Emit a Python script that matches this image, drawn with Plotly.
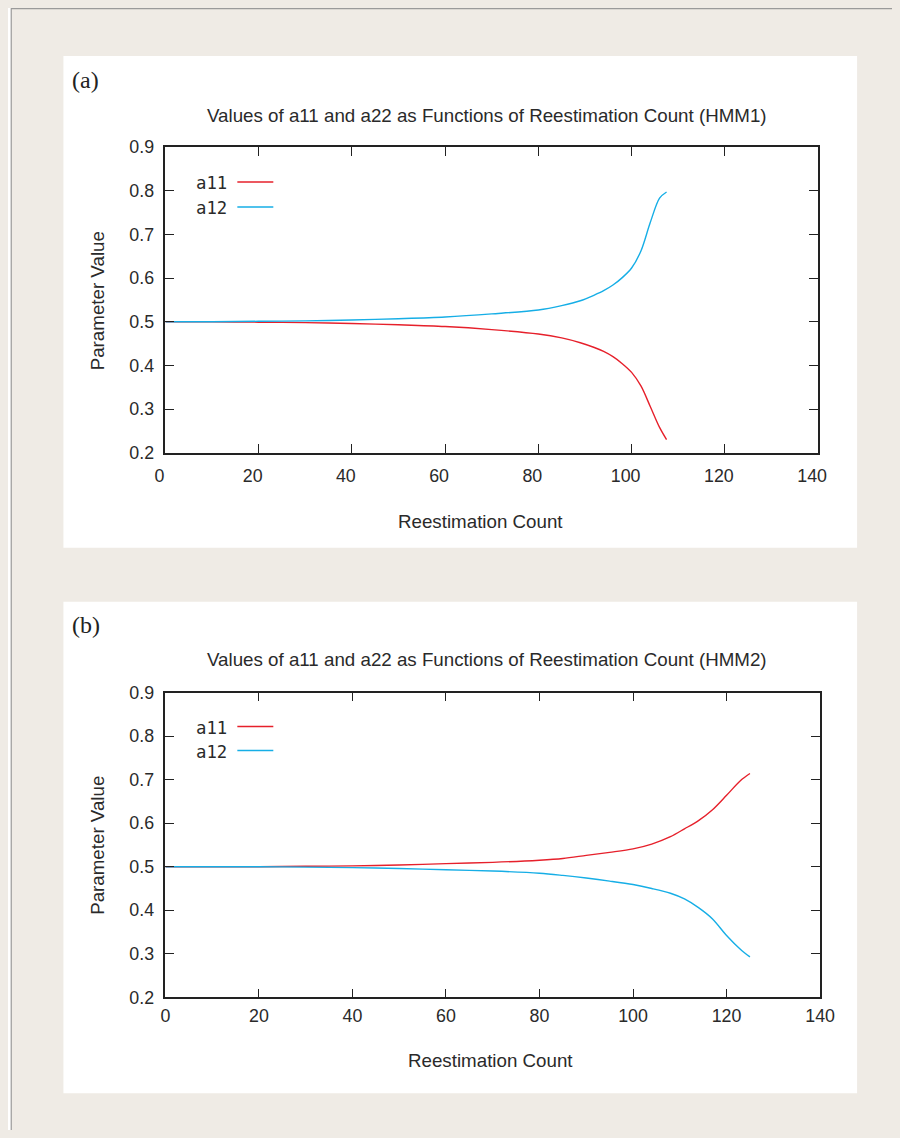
import plotly.graph_objects as go

# ---------------- data ----------------
x_hmm1 = [0, 10, 20, 30, 40, 50, 60, 70, 80, 85, 89, 92, 94, 96, 98, 100, 102, 104, 106, 107.5]
a11_hmm1 = [0.500, 0.500, 0.499, 0.498, 0.496, 0.493, 0.489, 0.482, 0.472, 0.463, 0.452, 0.441,
            0.432, 0.420, 0.404, 0.384, 0.353, 0.306, 0.258, 0.230]
a12_hmm1 = [0.500, 0.500, 0.501, 0.502, 0.504, 0.507, 0.511, 0.518, 0.527, 0.537, 0.548, 0.561,
            0.571, 0.584, 0.601, 0.623, 0.662, 0.727, 0.783, 0.797]

x_hmm2 = [0, 10, 20, 30, 40, 50, 60, 70, 80, 85, 90, 95, 100, 104, 108, 111, 114, 117, 120, 123, 125]
a11_hmm2 = [0.500, 0.500, 0.500, 0.501, 0.502, 0.504, 0.507, 0.510, 0.515, 0.519, 0.526, 0.533,
            0.541, 0.552, 0.569, 0.587, 0.606, 0.631, 0.664, 0.698, 0.714]
a12_hmm2 = [0.500, 0.500, 0.500, 0.499, 0.498, 0.496, 0.493, 0.490, 0.485, 0.480, 0.474, 0.467,
            0.459, 0.450, 0.439, 0.426, 0.406, 0.380, 0.342, 0.310, 0.293]

series_names = ["a11", "a12"]
titles = ["Values of a11 and a22 as Functions of Reestimation Count (HMM1)",
          "Values of a11 and a22 as Functions of Reestimation Count (HMM2)"]
panel_labels = ["(a)", "(b)"]
x_title = "Reestimation Count"
y_title = "Parameter Value"

# ---------------- style ----------------
PAGE_W, PAGE_H = 900, 1138
OFF = 8  # default body margin of the html page
W, H = PAGE_W - 2 * OFF, PAGE_H - 2 * OFF
# calibration of the photographed page: shot = S * page + O
SX, OX = 0.971, 10.8
SY, OY = 0.983, 9.0
BEIGE = "#efebe5"
RED = "#e6202b"
BLUE = "#16aee6"
AXC = "#222222"
TXT = "#2a2a2a"
SANS = "Liberation Sans, Arial, Helvetica, sans-serif"
MONO = "DejaVu Sans Mono, Liberation Mono, monospace"
SERIF = "Liberation Serif, Times New Roman, serif"


def px(x):
    """target pixel x (in the picture) -> paper fraction"""
    page = (x - OX) / SX
    return (page - OFF) / W


def py(y):
    page = (y - OY) / SY
    return 1 - (page - OFF) / H


def fs(size):
    return size / SX


fig = go.Figure()

panels = [
    dict(xa="x", ya="y", xs=[x_hmm1, x_hmm1], ys=[a11_hmm1, a12_hmm1],
         plot=(165, 818, 146, 452), box=(63, 857, 55, 547),
         title_y=114, label_y=79, xt=(480, 521), yt=(97, 300), leg_y=(182, 207), shift=-6, stand=6),
    dict(xa="x2", ya="y2", xs=[x_hmm2, x_hmm2], ys=[a11_hmm2, a12_hmm2],
         plot=(165, 820, 692, 997), box=(63, 857, 601, 1093),
         title_y=659, label_y=624, xt=(490, 1060), yt=(97, 845), leg_y=(727, 751), shift=0, stand=2),
]

shapes = []
annotations = []

# white outer strips (top and left), then page background with grey border on top and left
shapes.append(dict(type="rect", xref="paper", yref="paper", x0=px(-20), x1=px(930), y0=py(7.2), y1=py(-20),
                   fillcolor="white", line=dict(width=0), layer="below"))
shapes.append(dict(type="rect", xref="paper", yref="paper", x0=px(-20), x1=px(10.6), y0=py(1180), y1=py(-20),
                   fillcolor="white", line=dict(width=0), layer="below"))
shapes.append(dict(type="rect", xref="paper", yref="paper", x0=px(10.5), x1=px(930), y0=py(1180), y1=py(7),
                   fillcolor=BEIGE, line=dict(width=0), layer="below"))
shapes.append(dict(type="line", xref="paper", yref="paper", x0=px(10.5), x1=px(930), y0=py(7.5), y1=py(7.5),
                   line=dict(color="#9a9a9a", width=1.2), layer="below"))
shapes.append(dict(type="line", xref="paper", yref="paper", x0=px(10.8), x1=px(10.8), y0=py(1180), y1=py(7),
                   line=dict(color="#9a9a9a", width=1.2), layer="below"))

for i, p in enumerate(panels):
    x0, x1, y0, y1 = p["plot"]
    bx0, bx1, by0, by1 = p["box"]
    shapes.append(dict(type="rect", xref="paper", yref="paper", x0=px(bx0), x1=px(bx1), y0=py(by1), y1=py(by0),
                       fillcolor="white", line=dict(width=0), layer="below"))
    for name, xs, ys, col in zip(series_names, p["xs"], p["ys"], [RED, BLUE]):
        fig.add_trace(go.Scatter(x=xs, y=ys, mode="lines", name=name, xaxis=p["xa"], yaxis=p["ya"],
                                 line=dict(color=col, width=1.4, shape="spline", smoothing=0.9),
                                 showlegend=False))
    sfx = "" if i == 0 else "2"
    fig.layout["xaxis" + sfx] = dict(
        domain=[px(x0), px(x1)], anchor="y" + sfx, range=[0, 140], dtick=20, tick0=0,
        showgrid=False, zeroline=False, showline=True, linecolor=AXC, linewidth=1.5, mirror="ticks",
        ticks="inside", ticklen=9, tickwidth=1.3, tickcolor=AXC, ticklabelstandoff=p["stand"],
        ticklabelshift=p["shift"], tickfont=dict(family=SANS, size=fs(17.3), color=TXT))
    fig.layout["yaxis" + sfx] = dict(
        domain=[py(y1), py(y0)], anchor="x" + sfx, range=[0.2, 0.9], dtick=0.1, tick0=0.2,
        tickformat=".1f", showgrid=False, zeroline=False, showline=True, linecolor=AXC, linewidth=1.5,
        mirror="ticks", ticks="inside", ticklen=9, tickwidth=1.3, tickcolor=AXC, ticklabelstandoff=6,
        tickfont=dict(family=SANS, size=fs(17.3), color=TXT))
    annotations.append(dict(text=titles[i], xref="paper", yref="paper", x=px(487), y=py(p["title_y"]),
                            xanchor="center", yanchor="middle", showarrow=False,
                            font=dict(family=SANS, size=fs(18.2), color=TXT)))
    annotations.append(dict(text=panel_labels[i], xref="paper", yref="paper", x=px(70), y=py(p["label_y"]),
                            xanchor="left", yanchor="middle", showarrow=False,
                            font=dict(family=SERIF, size=fs(23.3), color="#222222")))
    annotations.append(dict(text=x_title, xref="paper", yref="paper", x=px(p["xt"][0]), y=py(p["xt"][1]),
                            xanchor="center", yanchor="middle", showarrow=False,
                            font=dict(family=SANS, size=fs(18.2), color=TXT)))
    annotations.append(dict(text=y_title, xref="paper", yref="paper", x=px(p["yt"][0]), y=py(p["yt"][1]),
                            xanchor="center", yanchor="middle", showarrow=False, textangle=-90,
                            font=dict(family=SANS, size=fs(18.2), color=TXT)))
    for name, col, ly in zip(series_names, [RED, BLUE], p["leg_y"]):
        annotations.append(dict(text=name, xref="paper", yref="paper", x=px(229), y=py(ly),
                                xanchor="right", yanchor="middle", showarrow=False,
                                font=dict(family=MONO, size=fs(16.8), color=TXT)))
        shapes.append(dict(type="line", xref="paper", yref="paper", x0=px(237), x1=px(273),
                           y0=py(ly - 1), y1=py(ly - 1), line=dict(color=col, width=1.4)))

fig.update_layout(width=W, height=H, margin=dict(l=0, r=0, t=0, b=0), paper_bgcolor="white",
                  plot_bgcolor="white", shapes=shapes, annotations=annotations, showlegend=False)

fig.write_html("out.html", config={"displayModeBar": False},
               post_script="document.documentElement.style.background='" + BEIGE + "';")
